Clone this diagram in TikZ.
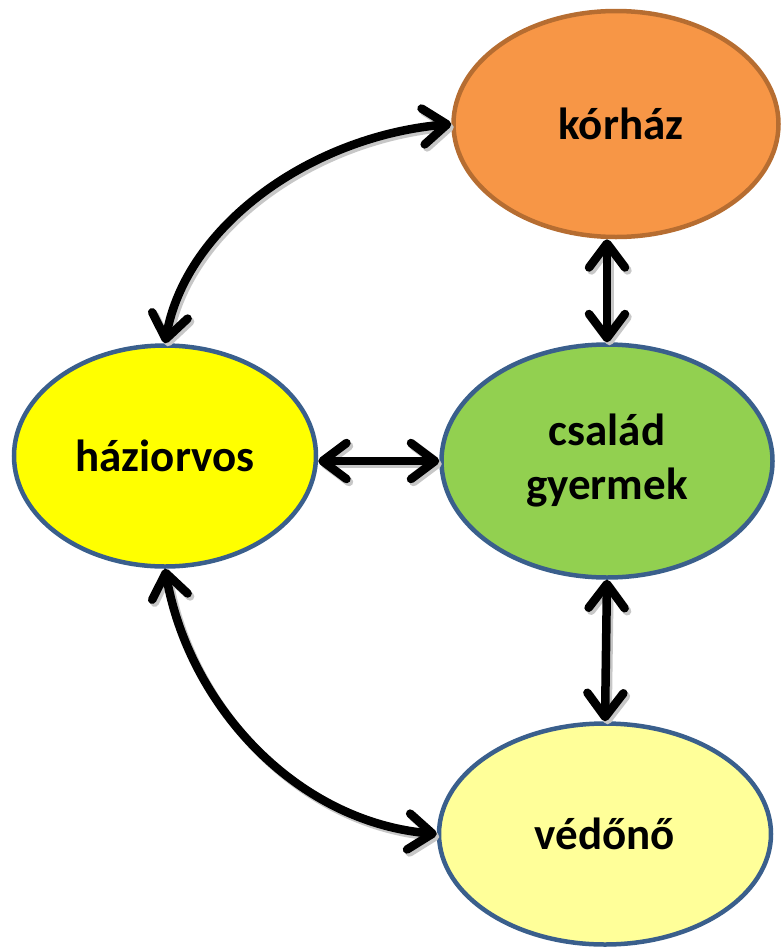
\documentclass[tikz,border=0pt]{standalone}
\usepackage{fontspec}
\setmainfont{Carlito}
\usetikzlibrary{arrows.meta,shapes.geometric}
\definecolor{orfill}{HTML}{F79646}
\definecolor{ordraw}{HTML}{B66D31}
\definecolor{bluedraw}{HTML}{3A5F8C}
\definecolor{yel}{HTML}{FFFF00}
\definecolor{grn}{HTML}{92D050}
\definecolor{lyel}{HTML}{FFFF99}
\begin{document}
\begin{tikzpicture}[x=1pt,y=1pt,
  blob/.style={ellipse, draw=bluedraw, line width=4.5pt, inner sep=0pt,
    font=\fontsize{45}{54}\selectfont\bfseries, align=center},
  tip/.tip={Straight Barb[length=24pt,width=36pt,round]},
  link/.style={line width=8.5pt, black, tip-tip,
    preaction={draw=black!22, line width=8.5pt, transform canvas={shift={(2.5pt,-3pt)}}}}]
\useasboundingbox (0,0) rectangle (781,-948);
\node[blob, fill=orfill, draw=ordraw, minimum width=325pt, minimum height=226pt] (k) at (616,-124) {\hspace*{10pt}kórház};
\node[blob, fill=yel, minimum width=302pt, minimum height=221pt] (h) at (165,-456) {háziorvos};
\node[blob, fill=grn, minimum width=331pt, minimum height=233pt] (c) at (607,-461) {család\\gyermek};
\node[blob, fill=lyel, minimum width=332pt, minimum height=221pt] (v) at (605,-834) {védőnő};
\draw[link] (h.east |- c.west) -- (c.west);
\draw[link] (k.south -| c.north) -- (c.north);
\draw[link] (c.south) -- (v.north);
\draw[link] (h.north) .. controls +(80:120) and +(185:140) .. (k.west);
\draw[link] (h.south) .. controls +(-80:140) and +(175:140) .. (v.west);
\end{tikzpicture}
\end{document}
